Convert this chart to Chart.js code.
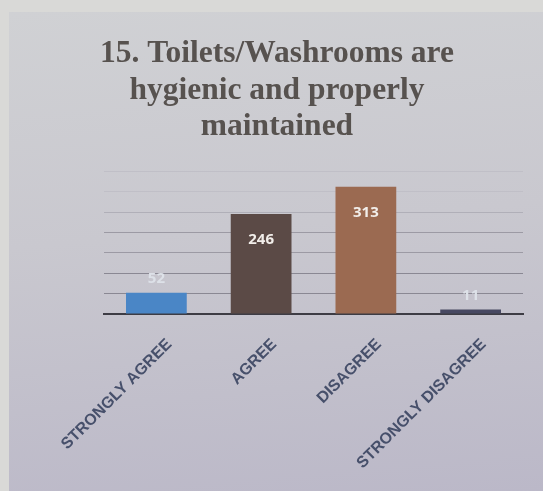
<!DOCTYPE html>
<html>
<head>
<meta charset="utf-8">
<script src="https://cdn.jsdelivr.net/npm/chart.js@4.4.0/dist/chart.umd.min.js"></script>
<style>
  html, body { margin: 0; padding: 0; background: #d9d9d7; }
  #slide {
    position: absolute; left: 9px; top: 12px; width: 534px; height: 479px;
    background: linear-gradient(175deg, #d0d1d4 0%, #c9c8cf 45%, #bbb8c8 100%);
  }
  #wrap { position: absolute; left: 0; top: 0; width: 543px; height: 491px; }
</style>
</head>
<body>
<div id="slide"></div>
<div id="wrap"><canvas id="myChart" width="543" height="491"></canvas></div>
<script>
const categories = ['STRONGLY AGREE', 'AGREE', 'DISAGREE', 'STRONGLY DISAGREE'];
const responses = [52, 246, 313, 11];
const barColors = ['#4a86c6', '#5b4a46', '#9b6a51', '#474861'];
const titleLines = ['15. Toilets/Washrooms are', 'hygienic and properly', 'maintained'];

// draws the count on each bar, inside the top for tall bars, above for short ones
const valueLabels = {
    id: 'valueLabels',
    afterDatasetsDraw(chart) {
        const c = chart.ctx;
        const meta = chart.getDatasetMeta(0);
        c.save();
        c.font = 'bold 15px "Open Sans", sans-serif';
        c.textAlign = 'center';
        c.textBaseline = 'middle';
        meta.data.forEach((bar, i) => {
            const h = bar.base - bar.y;
            if (h > 40) {
                c.fillStyle = '#f2eeea';
                c.fillText(responses[i], bar.x, bar.y + 26);
            } else {
                c.fillStyle = '#dde1e8';
                c.fillText(responses[i], bar.x, bar.y - 14);
            }
        });
        c.restore();
    }
};

// gridlines fade out toward the top, like in the photo
function gridColor(context) {
    const v = context.tick ? context.tick.value : 0;
    if (v <= 100) return '#8a8893';
    if (v <= 200) return '#9c9aa4';
    if (v <= 250) return '#b0afb8';
    return '#c0bfc7';
}

const ctx = document.getElementById('myChart');

new Chart(ctx, {
    type: 'bar',
    data: {
        labels: categories,
        datasets: [{
            data: responses,
            backgroundColor: barColors,
            borderWidth: 0,
            barPercentage: 0.58,
            categoryPercentage: 1
        }]
    },
    options: {
        responsive: false,
        animation: false,
        devicePixelRatio: 1,
        layout: { padding: { left: 11, right: 0, top: 36, bottom: 2 } },
        plugins: {
            legend: { display: false },
            tooltip: { enabled: false },
            title: {
                display: true,
                text: titleLines,
                color: '#57524f',
                font: { family: '"Liberation Serif", serif', size: 31.5, weight: 'bold', lineHeight: 1.16 },
                padding: { top: 0, bottom: 26 }
            }
        },
        scales: {
            x: {
                grid: { display: false },
                border: { display: true, color: '#3d3c44', width: 2 },
                ticks: {
                    color: '#47506b',
                    font: { family: '"Liberation Sans", sans-serif', size: 16, weight: 'bold' },
                    minRotation: 45,
                    maxRotation: 45,
                    labelOffset: 13,
                    padding: 13
                },
                afterFit(scale) { scale.height = 175; }
            },
            y: {
                min: 0,
                max: 350,
                ticks: { display: false, stepSize: 50 },
                border: { display: false },
                grid: { color: gridColor, lineWidth: 1, drawTicks: false },
                afterFit(scale) { scale.width = 93; }
            },
            yr: {
                position: 'right',
                display: true,
                grid: { display: false },
                border: { display: false },
                ticks: { display: false },
                afterFit(scale) { scale.width = 20; }
            }
        }
    },
    plugins: [valueLabels]
});
</script>
</body>
</html>
